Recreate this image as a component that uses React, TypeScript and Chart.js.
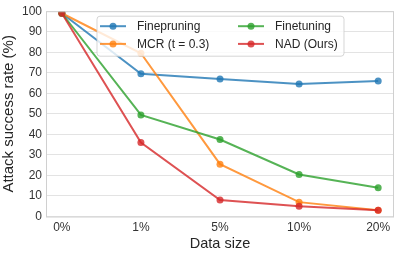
import React, { useEffect, useRef } from "react";
import { Chart, registerables } from "chart.js";

Chart.register(...registerables);

const categories = ["0%", "1%", "5%", "10%", "20%"];
const seriesNames = ["Finepruning", "MCR (t = 0.3)", "Finetuning", "NAD (Ours)"];
const fineprune = [99, 69.5, 67, 64.5, 66];
const mcr = [99, 79.5, 25.5, 7, 3];
const finetune = [99, 49.5, 37.5, 20.5, 14];
const nad = [99, 36, 8, 5, 3];
const yTicks = [0, 10, 20, 30, 40, 50, 60, 70, 80, 90, 100];
const colors = [
  "rgba(31,119,180,0.8)",
  "rgba(255,127,14,0.8)",
  "rgba(44,160,44,0.8)",
  "rgba(214,39,40,0.8)",
];

const FONT = "'Liberation Sans', Arial, sans-serif";

export default function App() {
  const ref = useRef<HTMLCanvasElement | null>(null);
  useEffect(() => {
    document.body.style.margin = "0";
    const all = [fineprune, mcr, finetune, nad];
    const legendPlugin = {
      id: "innerLegend",
      afterDraw(chart: any) {
        const ctx = chart.ctx as CanvasRenderingContext2D;
        const ca = chart.chartArea;
        const bx = ca.left + 51;
        const by = ca.top + 5;
        const bw = 247;
        const bh = 40;
        ctx.save();
        ctx.beginPath();
        const r = 3;
        ctx.moveTo(bx + r, by);
        ctx.arcTo(bx + bw, by, bx + bw, by + bh, r);
        ctx.arcTo(bx + bw, by + bh, bx, by + bh, r);
        ctx.arcTo(bx, by + bh, bx, by, r);
        ctx.arcTo(bx, by, bx + bw, by, r);
        ctx.closePath();
        ctx.fillStyle = "rgba(255,255,255,0.8)";
        ctx.fill();
        ctx.strokeStyle = "rgba(204,204,204,0.8)";
        ctx.lineWidth = 1;
        ctx.stroke();
        const cols = [bx + 3, bx + 141];
        const rows = [by + 10, by + 27.7];
        ctx.font = "12px " + FONT;
        ctx.textBaseline = "middle";
        ctx.textAlign = "left";
        seriesNames.forEach((name, i) => {
          const cx = cols[i < 2 ? 0 : 1];
          const cy = rows[i % 2];
          ctx.strokeStyle = colors[i];
          ctx.lineWidth = 2;
          ctx.beginPath();
          ctx.moveTo(cx, cy);
          ctx.lineTo(cx + 26, cy);
          ctx.stroke();
          ctx.fillStyle = colors[i];
          ctx.beginPath();
          ctx.arc(cx + 13, cy, 3.5, 0, Math.PI * 2);
          ctx.fill();
          ctx.fillStyle = "#262626";
          ctx.fillText(name, cx + 37, cy + 0.5);
        });
        ctx.restore();
      },
    };
    const borderPlugin = {
      id: "spines",
      afterDraw(chart: any) {
        const ctx = chart.ctx as CanvasRenderingContext2D;
        const ca = chart.chartArea;
        ctx.save();
        ctx.strokeStyle = "#d0d0d0";
        ctx.lineWidth = 1;
        ctx.strokeRect(ca.left + 0.5, ca.top + 0.5, ca.right - ca.left - 1, ca.bottom - ca.top);
        ctx.restore();
      },
    };
    const chart = new Chart(ref.current as HTMLCanvasElement, {
      type: "line",
      data: {
        datasets: all.map((vals, i) => ({
          label: seriesNames[i],
          data: vals.map((v, j) => ({ x: j, y: v })),
          borderColor: colors[i],
          backgroundColor: colors[i],
          borderWidth: 2,
          pointRadius: 3.5,
          pointHoverRadius: 3.5,
          pointBorderWidth: 0,
          tension: 0,
          order: 4 - i,
        })),
      },
      options: {
        animation: false,
        responsive: false,
        maintainAspectRatio: false,
        layout: { padding: { top: 10, right: 5, left: 0, bottom: 0 } },
        plugins: { legend: { display: false }, tooltip: { enabled: false } },
        scales: {
          x: {
            type: "linear",
            min: -0.2,
            max: 4.2,
            afterBuildTicks: (s: any) => {
              s.ticks = categories.map((_, i) => ({ value: i }));
            },
            afterFit: (s: any) => {
              s.height = 36.5;
            },
            grid: { display: false, drawTicks: false },
            border: { display: false },
            ticks: {
              callback: (v: any) => categories[v] ?? "",
              font: { family: FONT, size: 12 },
              color: "#333333",
              padding: 4,
              maxRotation: 0,
              autoSkip: false,
            },
            title: {
              display: true,
              text: "Data size",
              font: { family: FONT, size: 14.5 },
              color: "#262626",
              padding: { top: 0, bottom: 0 },
            },
          },
          y: {
            min: 0,
            max: 100,
            afterBuildTicks: (s: any) => {
              s.ticks = yTicks.map((v) => ({ value: v }));
            },
            afterFit: (s: any) => {
              s.width = 46;
            },
            grid: { color: "#e3e3e3", lineWidth: 1, drawTicks: false },
            border: { display: false },
            ticks: {
              font: { family: FONT, size: 12 },
              color: "#333333",
              padding: 4,
            },
            title: {
              display: true,
              text: "Attack success rate (%)",
              font: { family: FONT, size: 15 },
              color: "#262626",
              padding: { top: 0, bottom: 2 },
            },
          },
        },
      },
      plugins: [borderPlugin, legendPlugin],
    } as any);
    return () => chart.destroy();
  }, []);
  return (
    <div style={{ position: "relative", width: 399, height: 253 }}>
      <canvas ref={ref} width={399} height={253} style={{ display: "block" }} />
    </div>
  );
}
